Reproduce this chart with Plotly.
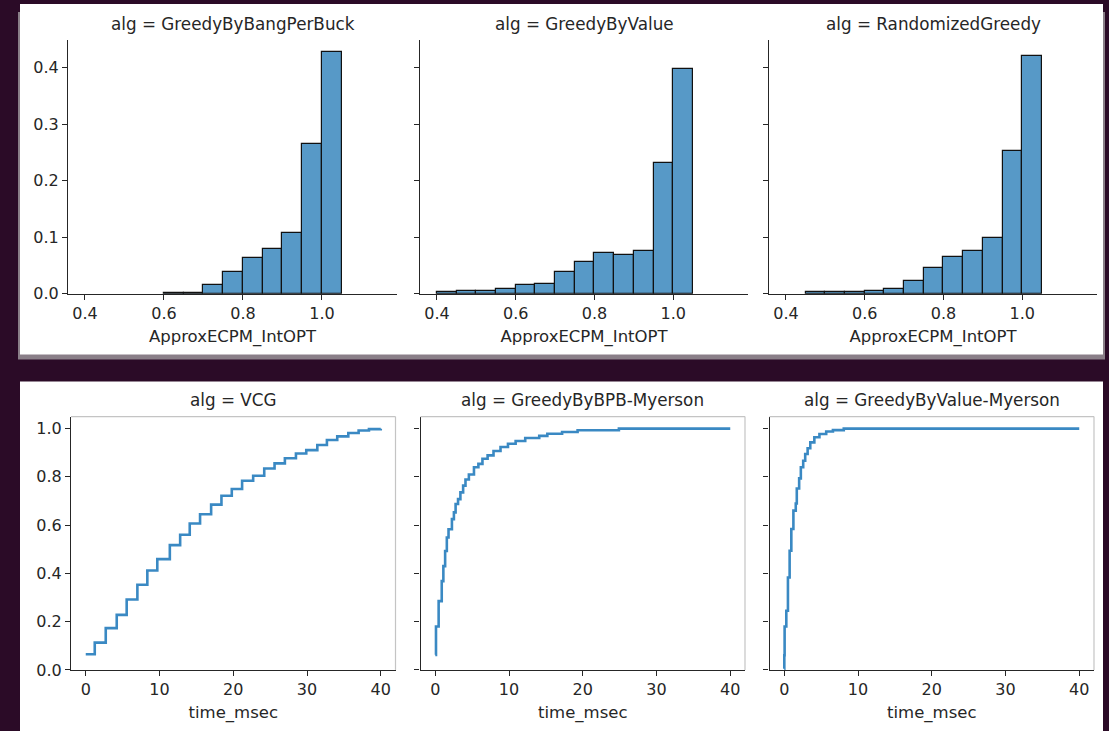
import plotly.graph_objects as go
from plotly.subplots import make_subplots

W, H = 1109, 731
FIG_H = 742  # page height that fills the captured frame

# ---------------- data ----------------
hist_algs = ["GreedyByBangPerBuck", "GreedyByValue", "RandomizedGreedy"]
bin_width = 0.05
bin_left_bpb = [0.60, 0.65, 0.70, 0.75, 0.80, 0.85, 0.90, 0.95, 1.00]
prob_bpb = [0.002, 0.002, 0.015, 0.038, 0.063, 0.079, 0.108, 0.265, 0.427]
bin_left_val = [0.40, 0.45, 0.50, 0.55, 0.60, 0.65, 0.70, 0.75, 0.80, 0.85, 0.90, 0.95, 1.00]
prob_val = [0.0024, 0.0053, 0.0053, 0.0083, 0.0148, 0.0177, 0.0384, 0.0567, 0.0715, 0.0691, 0.075, 0.2315, 0.397]
bin_left_rnd = [0.45, 0.50, 0.55, 0.60, 0.65, 0.70, 0.75, 0.80, 0.85, 0.90, 0.95, 1.00]
prob_rnd = [0.0024, 0.0024, 0.0024, 0.0053, 0.0083, 0.023, 0.0455, 0.0656, 0.075, 0.0992, 0.2522, 0.4206]

ecdf_algs = ["VCG", "GreedyByBPB-Myerson", "GreedyByValue-Myerson"]
time_vcg = [0, 1.22, 2.71, 4.2, 5.55, 7.0, 8.35, 9.7, 11.4, 12.8, 14.1, 15.5, 17.0, 18.4,
            19.8, 21.2, 22.7, 24.2, 25.6, 27.0, 28.5, 29.9, 31.4, 32.7, 34.1, 35.6, 37.0, 38.4, 40]
ecdf_vcg = [0.065, 0.113, 0.173, 0.228, 0.292, 0.353, 0.412, 0.459, 0.517, 0.560, 0.607, 0.645,
            0.685, 0.722, 0.750, 0.784, 0.805, 0.835, 0.856, 0.877, 0.897, 0.911, 0.932, 0.953,
            0.968, 0.982, 0.992, 0.998, 1.0]
time_bpbm = [0, 0.1, 0.46, 0.88, 1.1, 1.34, 1.57, 1.8, 2.26, 2.53, 2.76, 3.09, 3.41, 3.78, 4.1,
             4.56, 5.25, 5.85, 6.4, 7.1, 7.9, 8.85, 9.86, 10.9, 12.2, 14.1, 15.2, 17.2, 19.3, 24.9, 40]
ecdf_bpbm = [0.0625, 0.18, 0.285, 0.368, 0.43, 0.493, 0.549, 0.583, 0.625, 0.653, 0.6875, 0.708,
             0.736, 0.764, 0.789, 0.81, 0.84, 0.854, 0.875, 0.889, 0.907, 0.924, 0.9375, 0.949,
             0.961, 0.970, 0.979, 0.986, 0.993, 1.0, 1.0]
time_valm = [0, 0.01, 0.05, 0.28, 0.5, 0.73, 0.96, 1.24, 1.56, 1.7, 2.02, 2.25, 2.57, 2.84, 3.17,
             3.53, 4.08, 4.77, 5.69, 6.6, 8.07, 40]
ecdf_valm = [0.005, 0.061, 0.18, 0.245, 0.383, 0.494, 0.584, 0.66, 0.69, 0.752, 0.794, 0.84,
             0.867, 0.895, 0.919, 0.943, 0.964, 0.978, 0.988, 0.994, 1.0, 1.0]

hist_ticks = [0.4, 0.6, 0.8, 1.0]
hist_yticks = [0.0, 0.1, 0.2, 0.3, 0.4]
ecdf_xticks = [0, 10, 20, 30, 40]
ecdf_yticks = [0.0, 0.2, 0.4, 0.6, 0.8, 1.0]

# ---------------- style ----------------
BG = "#2b0b27"
TXT = "#262626"
BAR = "#5799c7"
LINE = "#3a89c3"
FONT = "DejaVu Sans"

def px_x(p):
    return p / W

def px_y(p):
    return 1 - p / H

top_x = [(68, 397), (420, 748), (769, 1097)]
bot_x = [(71, 395.5), (420.5, 745), (769.5, 1094)]
top_y = (40, 293.3)
bot_y = (416, 669)

fig = make_subplots(rows=2, cols=3)

hist_data = [(bin_left_bpb, prob_bpb), (bin_left_val, prob_val), (bin_left_rnd, prob_rnd)]
for i, (lefts, probs) in enumerate(hist_data):
    fig.add_trace(go.Bar(x=lefts, y=probs, width=bin_width, offset=0,
                         marker=dict(color=BAR, line=dict(color="#111111", width=1.2)),
                         showlegend=False), row=1, col=i + 1)

ecdf_data = [(time_vcg, ecdf_vcg), (time_bpbm, ecdf_bpbm), (time_valm, ecdf_valm)]
for i, (t, e) in enumerate(ecdf_data):
    fig.add_trace(go.Scatter(x=t, y=e, mode="lines", line=dict(color=LINE, width=2.6, shape="hv"),
                             showlegend=False), row=2, col=i + 1)

axis_common = dict(showgrid=False, zeroline=False, showline=True, linecolor=TXT, linewidth=1.2,
                   ticks="outside", ticklen=5, tickwidth=1.2, tickcolor=TXT,
                   tickfont=dict(family=FONT, size=16, color=TXT))

shapes = []
annotations = []

# background boxes (top box has a soft grey shadow at its lower edge)
shapes.append(dict(type="rect", xref="paper", yref="paper", x0=px_x(18), x1=px_x(1105),
                   y0=px_y(359), y1=px_y(12), fillcolor="#8a7f88", line_width=0, layer="below"))
shapes.append(dict(type="rect", xref="paper", yref="paper", x0=px_x(20), x1=px_x(1103),
                   y0=px_y(354), y1=px_y(4), fillcolor="white", line_width=0, layer="below"))
shapes.append(dict(type="rect", xref="paper", yref="paper", x0=px_x(20), x1=px_x(1103),
                   y0=0, y1=px_y(381), fillcolor="white", line_width=0, layer="below"))

for i in range(3):
    n = i + 1
    xa = "xaxis" if n == 1 else f"xaxis{n}"
    ya = "yaxis" if n == 1 else f"yaxis{n}"
    fig.layout[xa].update(domain=[px_x(top_x[i][0]), px_x(top_x[i][1])], range=[0.357, 1.19],
                          tickvals=hist_ticks, tickformat=".1f",
                          title=dict(text="ApproxECPM_IntOPT", standoff=8,
                                     font=dict(family=FONT, size=16.5, color=TXT)),
                          **axis_common)
    fig.layout[ya].update(domain=[px_y(top_y[1]), px_y(top_y[0])], range=[0, 0.449],
                          tickvals=hist_yticks, tickformat=".1f", showticklabels=(n == 1),
                          **axis_common)
    annotations.append(dict(text=f"alg = {hist_algs[i]}", xref="paper", yref="paper",
                            x=px_x((top_x[i][0] + top_x[i][1]) / 2), y=px_y(24),
                            showarrow=False, xanchor="center", yanchor="middle",
                            font=dict(family=FONT, size=16.8, color=TXT)))

    m = i + 4
    xb = f"xaxis{m}"
    yb = f"yaxis{m}"
    fig.layout[xb].update(domain=[px_x(bot_x[i][0]), px_x(bot_x[i][1])], range=[-2, 42],
                          tickvals=ecdf_xticks,
                          title=dict(text="time_msec", standoff=8,
                                     font=dict(family=FONT, size=16.5, color=TXT)),
                          **axis_common)
    fig.layout[yb].update(domain=[px_y(bot_y[1]), px_y(bot_y[0])], range=[0, 1.05],
                          tickvals=ecdf_yticks, tickformat=".1f", showticklabels=(m == 4),
                          **axis_common)
    annotations.append(dict(text=f"alg = {ecdf_algs[i]}", xref="paper", yref="paper",
                            x=px_x((bot_x[i][0] + bot_x[i][1]) / 2), y=px_y(399),
                            showarrow=False, xanchor="center", yanchor="middle",
                            font=dict(family=FONT, size=16.8, color=TXT)))
    # light top/right frame
    shapes.append(dict(type="line", xref=f"x{m} domain", yref=f"y{m} domain", x0=0, x1=1, y0=1, y1=1,
                       line=dict(color="#c4c4c4", width=1.2)))
    shapes.append(dict(type="line", xref=f"x{m} domain", yref=f"y{m} domain", x0=1, x1=1, y0=0, y1=1,
                       line=dict(color="#c4c4c4", width=1.2)))

fig.update_layout(width=W, height=FIG_H, autosize=False, margin=dict(l=0, r=0, t=0, b=0),
                  paper_bgcolor=BG, plot_bgcolor="white", bargap=0,
                  font=dict(family=FONT, color=TXT),
                  shapes=shapes, annotations=annotations, showlegend=False)

post = """
var de = document.documentElement, b = document.body;
de.style.margin='0'; de.style.padding='0'; b.style.margin='0'; b.style.padding='0';
de.style.overflow='hidden'; b.style.overflow='hidden';
b.style.background='%s';
""" % BG

fig.write_html("out.html", post_script=post, config={"displayModeBar": False})
